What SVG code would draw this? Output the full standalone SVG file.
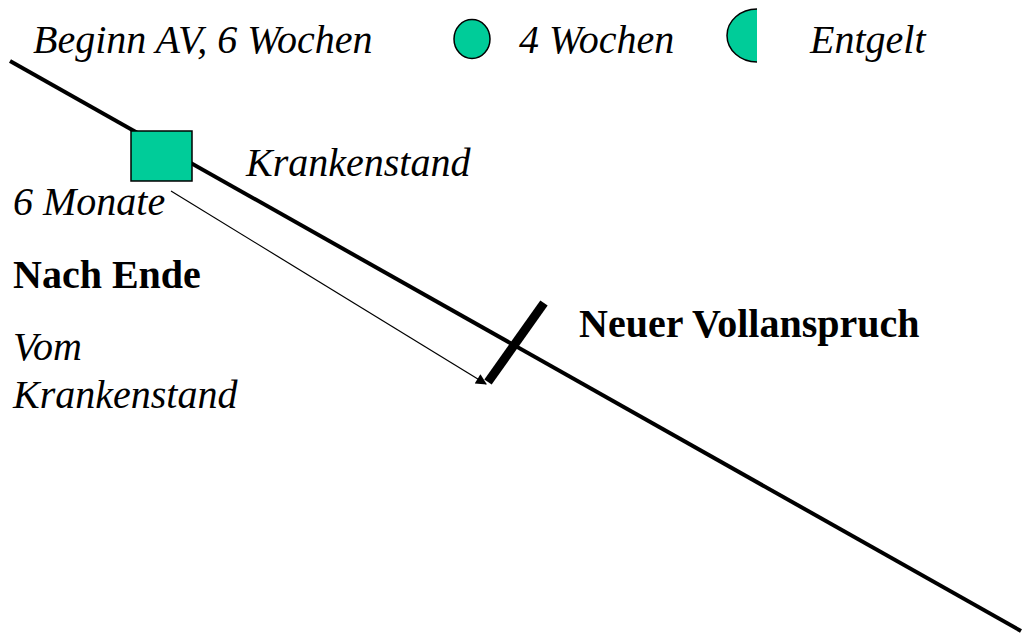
<svg xmlns="http://www.w3.org/2000/svg" width="1023" height="634" viewBox="0 0 1023 634">
<style>
text{font-family:"Liberation Serif","Times New Roman",serif;font-size:40px;fill:#000}
.i{font-style:italic}
.b{font-weight:bold}
.g{fill:#00CC99;stroke:#000;stroke-width:1.5}
</style>
<defs>
<marker id="ah" viewBox="0 0 10 10" refX="9" refY="5" markerWidth="15" markerHeight="11" markerUnits="userSpaceOnUse" orient="auto">
<path d="M0,0 L10,5 L0,10 Z" fill="#000"/>
</marker>
</defs>
<rect width="1023" height="634" fill="#fff"/>
<g id="connectors">
<line x1="10" y1="61" x2="1021" y2="631" stroke="#000" stroke-width="4"/>
<line x1="171" y1="191" x2="486" y2="384" stroke="#000" stroke-width="1.2" marker-end="url(#ah)"/>
<line x1="544" y1="303" x2="488" y2="382" stroke="#000" stroke-width="9"/>
</g>
<g id="legend">
<ellipse class="g" cx="472" cy="39" rx="18" ry="19.5"/>
<path d="M757,9 A30,26.5 0 0 0 757,62 Z" fill="#00CC99"/>
<path d="M757,9 A30,26.5 0 0 0 757,62" fill="none" stroke="#000" stroke-width="1.5"/>
<text class="i" x="33" y="53">Beginn AV, 6 Wochen</text>
<text class="i" x="519" y="53">4 Wochen</text>
<text class="i" x="810" y="53">Entgelt</text>
</g>
<g id="krankenstand">
<rect class="g" x="131" y="131" width="61" height="50"/>
<text class="i" x="246" y="176">Krankenstand</text>
<text class="i" x="13" y="215">6 Monate</text>
</g>
<g id="nach-ende">
<text class="b" x="13" y="288">Nach Ende</text>
<text class="i" x="13" y="360">Vom</text>
<text class="i" x="13" y="408">Krankenstand</text>
</g>
<g id="neuer-vollanspruch">
<text class="b" x="579" y="337">Neuer Vollanspruch</text>
</g>
</svg>
